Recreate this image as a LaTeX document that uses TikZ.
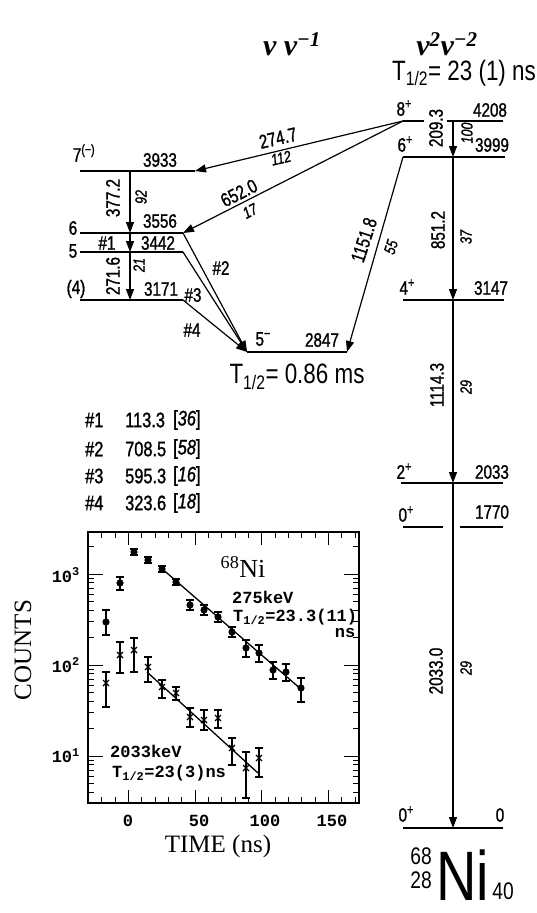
\documentclass[tikz,border=0pt]{standalone}
\usepackage{fontspec}
\setmainfont{Liberation Serif}
\newfontfamily\cnd[FakeStretch=0.78,FakeBold=1.2]{Liberation Sans}
\newfontfamily\cndr[FakeStretch=0.8]{Liberation Sans}
\newfontfamily\mno{Liberation Mono}
\usetikzlibrary{arrows.meta,calc}
\newcommand{\spar}[1]{\raisebox{0.38em}{\fontsize{14}{14}\selectfont#1}}

\begin{document}
\begin{tikzpicture}[x=1pt,y=-1pt,>={Triangle[length=11pt,width=8pt]}]
  \tikzstyle{lev}=[line width=1.8pt]
  \tikzstyle{gam}=[line width=1.2pt,->]
  \tikzstyle{en}=[font=\cnd\fontsize{19.5}{19.5}\selectfont,inner sep=0pt]
  \tikzstyle{inten}=[font=\cnd\itshape\fontsize{16}{16}\selectfont,inner sep=0pt]
  \tikzstyle{big}=[font=\cndr\fontsize{28}{28}\selectfont,inner sep=0pt]
  \tikzstyle{lst}=[font=\cnd\fontsize{21}{21}\selectfont,inner sep=0pt,anchor=west]
  \tikzstyle{tt}=[font=\mno\bfseries\fontsize{17}{17}\selectfont,inner sep=0pt]
  \tikzstyle{nu}=[font=\bfseries\itshape\fontsize{30}{30}\selectfont,inner sep=0pt]
  \useasboundingbox (0,0) rectangle (537,913);

  % headers
  \node[nu] (h1) at (292,44) {ν ν\textsuperscript{−1}};
  \node[nu] (h2) at (447,44) {ν\textsuperscript{2}ν\textsuperscript{−2}};
  \node[big] (t8) at (464,73) {T\textsubscript{1/2}= 23 (1) ns};

  % levels, right column
  \coordinate (a8) at (403,121); \coordinate (b8) at (503,121);
  \coordinate (a6) at (403,157); \coordinate (b6) at (505,157);
  \coordinate (a4) at (403,300); \coordinate (b4) at (504,300);
  \coordinate (a2) at (401,483); \coordinate (b2) at (503,483);
  \coordinate (a0) at (403,828); \coordinate (b0) at (503,828);
  \draw[lev] (a8) -- (424,121) (447,121) -- (b8);
  \draw[lev] (a6) -- (b6);
  \draw[lev] (a4) -- (b4);
  \draw[lev] (a2) -- (b2);
  \draw[lev] (403,527) -- (443,527) (460,527) -- (503,527);
  \draw[lev] (a0) -- (b0);

  % levels, left column
  \coordinate (a7) at (80,171); \coordinate (b7) at (195,171);
  \coordinate (a6l) at (80,233); \coordinate (b6l) at (183,233);
  \coordinate (a5l) at (80,252); \coordinate (b5l) at (183,252);
  \coordinate (a4l) at (80,300); \coordinate (b4l) at (183,300);
  \coordinate (a5m) at (247,352); \coordinate (b5m) at (347,352);
  \draw[lev] (a7) -- (b7);
  \draw[lev] (a6l) -- (b6l);
  \draw[lev] (a5l) -- (b5l);
  \draw[lev] (a4l) -- (b4l);
  \draw[lev] (a5m) -- (b5m);

  % spins and energies
  \node[en] (s8) at (404,108) {8\spar{+}};
  \node[en] (e8) at (490,110) {4208};
  \node[en] (s6) at (405,144) {6\spar{+}};
  \node[en] (e6) at (492,145) {3999};
  \node[en] (s4) at (407,287) {4\spar{+}};
  \node[en] (e4) at (491,288) {3147};
  \node[en] (s2) at (404,471) {2\spar{+}};
  \node[en] (e2) at (492,472) {2033};
  \node[en] (s0b) at (406,514) {0\spar{+}};
  \node[en] (e0b) at (492,512) {1770};
  \node[en] (s0) at (406,814) {0\spar{+}};
  \node[en] (e0) at (500,815) {0};
  \node[en] (s7) at (84,153) {7\textsuperscript{(−)}};
  \node[en] (e7) at (160,160) {3933};
  \node[en] (s6l) at (73,228) {6};
  \node[en] (e6l) at (160,221) {3556};
  \node[en] (s5l) at (73,251) {5};
  \node[en] (e5l) at (158,243) {3442};
  \node[en] (s4l) at (76,289) {(4)};
  \node[en] (e4l) at (161,289) {3171};
  \node[en] (s5m) at (263,339) {5\spar{−}};
  \node[en] (e5m) at (322,340) {2847};
  \node[big] (t5) at (297,377) {T\textsubscript{1/2}= 0.86 ms};

  % transitions, right column
  \draw[gam] (453,121) -- (453,157);
  \draw[gam] (453,157) -- (453,300);
  \draw[gam] (453,300) -- (453,483);
  \draw[gam] (453,483) -- (453,828);
  \node[en,rotate=90] (g209) at (436,128) {209.3};
  \node[inten,rotate=90] (i209) at (467,133) {100};
  \node[en,rotate=90] (g851) at (438,230) {851.2};
  \node[inten,rotate=90] (i851) at (466,237) {37};
  \node[en,rotate=90] (g1114) at (437,385) {1114.3};
  \node[inten,rotate=90] (i1114) at (466,387) {29};
  \node[en,rotate=90] (g2033) at (436,671) {2033.0};
  \node[inten,rotate=90] (i2033) at (466,668) {29};

  % transitions, crossing
  \draw[gam] (a8) -- (b7);
  \draw[gam] (a8) -- (b6l);
  \draw[gam] (a6) -- (b5m);
  \node[en,rotate=13] (g274) at (278,138) {274.7};
  \node[inten,rotate=13] (i274) at (281,158) {112};
  \node[en,rotate=27] (g652) at (239,193) {652.0};
  \node[inten,rotate=27] (i652) at (250,211) {17};
  \node[en,rotate=72] (g1151) at (364,240) {1151.8};
  \node[inten,rotate=72] (i1151) at (391,247) {55};

  % transitions, left column
  \draw[gam] (130,171) -- (130,233);
  \draw[gam] (130,233) -- (130,252);
  \draw[gam] (130,252) -- (130,300);
  \draw[gam] (b6l) -- (a5m);
  \draw[gam] (b5l) -- (a5m);
  \draw[gam] (b4l) -- (a5m);
  \node[en,rotate=90] (g377) at (113,198) {377.2};
  \node[inten,rotate=90] (i377) at (141,197) {92};
  \node[en] (n1) at (107,243) {\#1};
  \node[en,rotate=90] (g271) at (113,276) {271.6};
  \node[inten,rotate=90] (i271) at (139,265) {21};
  \node[en] (n2) at (221,268) {\#2};
  \node[en] (n3) at (193,295) {\#3};
  \node[en] (n4) at (192,330) {\#4};

  % list of weak lines
  \foreach \k/\e/\i/\y in {1/113.3/36/420,2/708.5/58/449,3/595.3/16/476,4/323.6/18/503}{
    \node[lst] (k\k) at (85,\y) {\#\k};
    \node[lst] (v\k) at (125,\y) {\e};
    \node[lst] (w\k) at (173,\y) {[\textit{\i}]};
  }

  % nucleus
  \node[inner sep=0pt,anchor=base] (ni) at (463,900) {\cndr\fontsize{70}{70}\selectfont Ni};
  \node[en,font=\cndr\fontsize{24}{24}\selectfont] (ma) at (421,856) {68};
  \node[en,font=\cndr\fontsize{24}{24}\selectfont] (za) at (421,880) {28};
  \node[en,font=\cndr\fontsize{24}{24}\selectfont] (na) at (503,891) {40};

  % decay curves
  \draw[line width=1.6pt] (88,532) rectangle (359,803);
  \foreach \t in {-20,-10,...,170}{
    \pgfmathsetmacro\xx{128.5+1.3333*\t}
    \draw[line width=1pt] (\xx,803) -- ++(0,-6) (\xx,532) -- ++(0,6);
  }
  \foreach \t in {0,50,100,150}{
    \pgfmathsetmacro\xx{128.5+1.3333*\t}
    \draw[line width=1pt] (\xx,803) -- ++(0,-13) (\xx,532) -- ++(0,13);
  }
  \foreach \yy in {756,665,574}{
    \draw[line width=1pt] (88,\yy) -- ++(15,0) (359,\yy) -- ++(-15,0);
  }
  \foreach \d in {0,1,2,3}{
    \foreach \m in {2,...,9}{
      \pgfmathsetmacro\yy{847-91*(\d+log10(\m))}
      \ifdim\yy pt>533pt \ifdim\yy pt<802pt
        \draw[line width=1pt] (88,\yy) -- ++(6,0) (359,\yy) -- ++(-6,0);
      \fi\fi
    }
  }
  \foreach \x/\y/\a/\b in {106/622/610/635,120/583/577/590,134/552/549/555,
    148/560/557/563,162/569/566/572,176/582/579/585,190/605/600/610,
    204/610/605/615,218/617/612/622,232/632/627/637,246/648/640/657,
    259/653/645/662,273/670/662/679,286/672/664/681,301/688/678/702}{
    \draw[line width=1.2pt] (\x,\a) -- (\x,\b) (\x-4,\a) -- (\x+4,\a) (\x-4,\b) -- (\x+4,\b);
    \fill (\x,\y) circle (3.6);
  }
  \foreach \x/\y/\a/\b in {106/683/672/707,120/655/642/673,134/650/638/672,
    148/667/657/682,162/687/680/698,176/693/687/700,190/717/708/727,
    204/720/710/730,218/718/710/728,232/748/738/765,246/768/752/798,
    259/758/748/777}{
    \draw[line width=1.2pt] (\x,\a) -- (\x,\b) (\x-4,\a) -- (\x+4,\a) (\x-4,\b) -- (\x+4,\b);
    \draw[line width=1.2pt] (\x-3,\y-3) -- (\x+3,\y+3) (\x-3,\y+3) -- (\x+3,\y-3);
  }
  \draw[line width=1.3pt] (160,567) -- (302,690);
  \draw[line width=1.3pt] (147,672) -- (258,773);

  \node[inner sep=0pt] (iso) at (243,567) {\fontsize{26}{26}\selectfont\textsuperscript{68}Ni};
  \node[tt,anchor=west] (l275) at (232,597) {275keV};
  \node[tt,anchor=west] (t275) at (233,617) {T\textsubscript{1/2}=23.3(11)};
  \node[tt] (u275) at (345,633) {ns};
  \node[tt,anchor=west] (l2033) at (110,751) {2033keV};
  \node[tt,anchor=west] (t2033) at (112,773) {T\textsubscript{1/2}=23(3)ns};

  \node[tt,anchor=east] (y3) at (80,575) {10\textsuperscript{3}};
  \node[tt,anchor=east] (y2) at (80,665) {10\textsuperscript{2}};
  \node[tt,anchor=east] (y1) at (80,756) {10\textsuperscript{1}};
  \node[tt] (x0) at (128,821) {0};
  \node[tt] (x50) at (199,821) {50};
  \node[tt] (x100) at (265,821) {100};
  \node[tt] (x150) at (332,821) {150};
  \node[inner sep=0pt] (xl) at (218,846) {\fontsize{25}{25}\selectfont TIME (ns)};
  \node[inner sep=0pt,rotate=90] (yl) at (23,650) {\fontsize{25}{25}\selectfont COUNTS};
\end{tikzpicture}
\end{document}
